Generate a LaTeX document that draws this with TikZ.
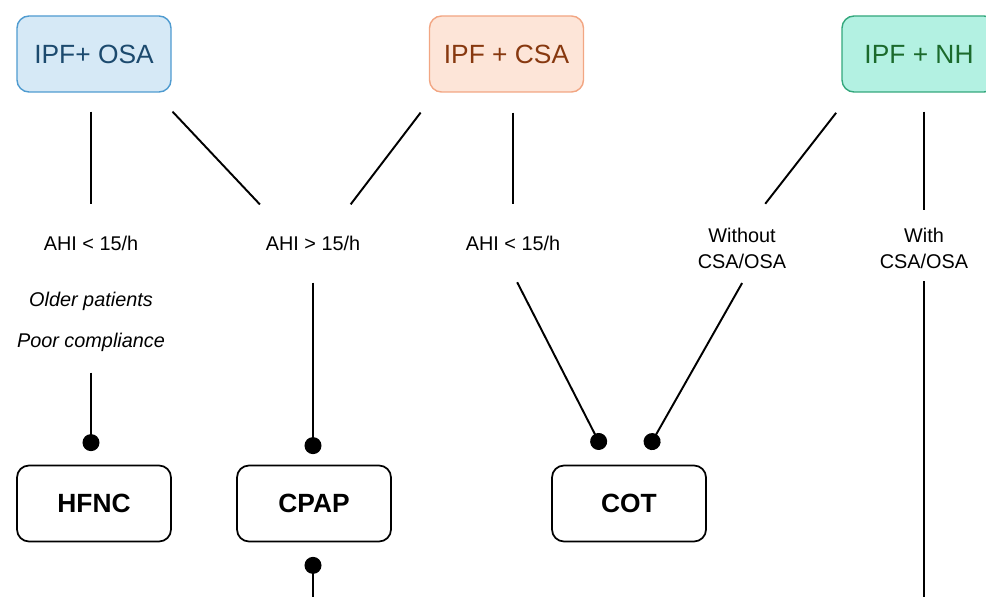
\documentclass[tikz,border=0pt]{standalone}
\usepackage{fontspec}
\setmainfont{Liberation Sans}
\usetikzlibrary{arrows.meta,positioning}
\definecolor{Azure}{HTML}{4F9BD0}
\definecolor{AzureLight}{HTML}{D6E9F6}
\definecolor{Navy}{HTML}{1C4A6E}
\definecolor{Salmon}{HTML}{F2A683}
\definecolor{SalmonLight}{HTML}{FDE5D8}
\definecolor{Rust}{HTML}{87380F}
\definecolor{Jade}{HTML}{33A77C}
\definecolor{Mint}{HTML}{B3F1E2}
\definecolor{Forest}{HTML}{1B6A2C}

\begin{document}
\begin{tikzpicture}[
  link/.style={line width=1.1pt,black},
  knob/.style={-{Circle[length=3.4mm]}},
  group/.style={rounded corners=0.24cm,line width=0.8pt,minimum width=3.08cm,minimum height=1.52cm,font=\fontsize{15}{18}\selectfont},
  therapy/.style={draw=black,rounded corners=0.24cm,line width=1pt,minimum width=3.08cm,minimum height=1.52cm,font=\fontsize{15}{18}\selectfont\bfseries},
  cond/.style={inner sep=0pt,align=center,font=\fontsize{11.3}{14.8}\selectfont}
]
  \useasboundingbox (0,0) rectangle (19.72,11.92);

  \node[group,draw=Azure,fill=AzureLight,text=Navy] (osa) at (1.88,10.84) {IPF+ OSA};
  \node[group,draw=Salmon,fill=SalmonLight,text=Rust] (csa) at (10.13,10.84) {IPF + CSA};
  \node[group,draw=Jade,fill=Mint,text=Forest] (nh) at (18.38,10.84) {IPF + NH};

  \node[cond] (l1) at (1.82,7.06) {AHI < 15/h};
  \node[cond] (l2) at (6.26,7.06) {AHI > 15/h};
  \node[cond] (l3) at (10.26,7.06) {AHI < 15/h};
  \node[cond] (l4) at (14.84,6.95) {Without\\CSA/OSA};
  \node[cond] (l5) at (18.48,6.95) {With\\CSA/OSA};
  \node[cond,font=\fontsize{11.3}{14.8}\selectfont\itshape] (older) at (1.82,5.89) {Older patients};
  \node[cond,font=\fontsize{11.3}{14.8}\selectfont\itshape] (poor) at (1.82,5.08) {Poor compliance};

  \node[therapy] (hfnc) at (1.88,1.85) {HFNC};
  \node[therapy] (cpap) at (6.28,1.85) {CPAP};
  \node[therapy] (cot) at (12.58,1.85) {COT};

  \coordinate (cpapout) at (l2 |- 0,-0.3);
  \coordinate (nhout) at (l5 |- 0,-0.3);

  \draw[link,shorten <=3.8mm,shorten >=6.2mm] (l1 |- osa.south) -- (l1);
  \draw[link,shorten <=5.2mm,shorten >=8.5mm] ([xshift=-3.4mm]osa.south east) -- ([xshift=-4.8mm]l2.north);
  \draw[link,shorten <=5mm,shorten >=7.8mm] ([xshift=1.4mm]csa.south west) -- ([xshift=2.8mm]l2.north);
  \draw[link,shorten <=4mm,shorten >=6.2mm] (l3 |- csa.south) -- (l3);
  \draw[link,shorten <=5.1mm,shorten >=6.1mm] ([xshift=2.1mm]nh.south west) -- ([xshift=0.9mm]l4.north);
  \draw[link,shorten <=3.8mm,shorten >=3.6mm] (l5 |- nh.south) -- (l5);

  \draw[link,knob,shorten <=4.2mm,shorten >=2.7mm] (poor) -- (poor |- hfnc.north);
  \draw[link,knob,shorten <=6.4mm,shorten >=2.1mm] (l2) -- (l2 |- cpap.north);
  \draw[link,knob,shorten <=7.1mm,shorten >=3.5mm] ([xshift=-2.4mm]l3.south) -- ([xshift=-3.7mm]cot.north);
  \draw[link,knob,shorten <=3.2mm,shorten >=3.6mm] ([xshift=1.6mm]l4.south) -- ([xshift=2mm]cot.north);
  \draw[link,{Circle[length=3.4mm]}-,shorten <=2.9mm] (cpap.south -| l2) -- (cpapout);
  \draw[link,shorten <=2.4mm] (l5) -- (nhout);
\end{tikzpicture}
\end{document}
